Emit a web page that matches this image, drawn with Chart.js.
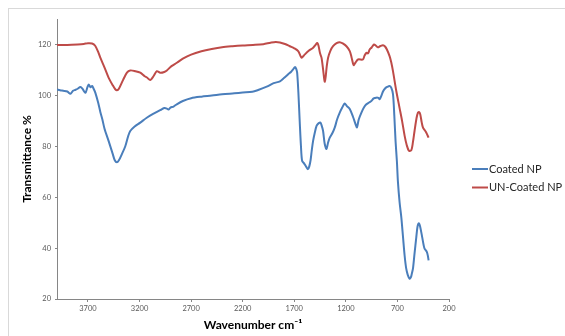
<!DOCTYPE html>
<html>
<head>
<meta charset="utf-8">
<script src="https://cdn.jsdelivr.net/npm/chart.js@4.4.1/dist/chart.umd.min.js"></script>
<style>
  html, body { margin: 0; padding: 0; background: #fff; overflow: hidden; }
  #wrap { position: relative; width: 565px; height: 336px; }
  #frame { position: absolute; left: 8px; top: 8px; width: 620px; height: 400px; border: 1px solid #d9d9d9; }
  #chart { position: absolute; left: 0; top: 0; }
</style>
</head>
<body>
<div id="wrap">
  <div id="frame"></div>
  <canvas id="chart" width="565" height="336"></canvas>
</div>
<script>
// 시리즈 이름
const seriesNames = ['Coated NP', 'UN-Coated NP'];
const seriesColors = ['#4a7ebb', '#be4b48'];

// 눈금 값
const xTickValues = [3700, 3200, 2700, 2200, 1700, 1200, 700, 200];
const yTickValues = [20, 40, 60, 80, 100, 120];

// Coated NP (파수, 투과율)
const coatedWn = [4000, 3970, 3940, 3900, 3870, 3845, 3820, 3800, 3773, 3750, 3725, 3705, 3693, 3675, 3660, 3645, 3628, 3600, 3580, 3560, 3540, 3500, 3460, 3440, 3420, 3400, 3370, 3338, 3310, 3290, 3250, 3193, 3130, 3064, 3000, 2960, 2935, 2920, 2900, 2870, 2839, 2780, 2700, 2600, 2500, 2400, 2281, 2200, 2107, 2050, 1967, 1900, 1839, 1800, 1759, 1730, 1711, 1694, 1682, 1672, 1660, 1646, 1635, 1624, 1605, 1585, 1567, 1555, 1542, 1530, 1517, 1500, 1484, 1465, 1446, 1435, 1421, 1405, 1388, 1372, 1356, 1330, 1307, 1285, 1259, 1235, 1211, 1190, 1162, 1130, 1100, 1092, 1075, 1049, 1025, 1001, 975, 953, 930, 904, 885, 872, 856, 840, 820, 800, 776, 760, 743, 730, 718, 705, 695, 679, 662, 645, 630, 615, 600, 582, 570, 560, 549, 535, 517, 505, 492, 480, 460, 445, 437, 415, 405, 398];
const coatedT = [102.3, 102.0, 101.8, 101.5, 100.6, 101.8, 102.2, 102.6, 103.3, 102.4, 101.0, 103.2, 104.3, 103.2, 103.7, 102.6, 101, 97, 93.5, 90.5, 87, 82.1, 77, 74.5, 73.7, 74.5, 77, 80, 84, 86, 87.7, 89.3, 91.2, 92.8, 94.2, 95.0, 94.8, 94.4, 95.2, 95.6, 96.5, 97.8, 98.9, 99.5, 99.9, 100.4, 100.8, 101.1, 101.4, 102.1, 103.4, 104.8, 105.5, 106.8, 108.3, 109.3, 110.2, 111.1, 110.5, 108.9, 101, 88.7, 80, 74.3, 73.3, 72, 71.0, 72, 74.5, 78.5, 82.2, 85.5, 88, 89, 89.3, 88.2, 86.1, 81, 78.9, 81.5, 83.4, 85.2, 87.4, 90.5, 93.2, 95.2, 96.8, 95.8, 94.6, 91.5, 88, 87.4, 90.5, 93.2, 95.2, 96.5, 97.2, 97.8, 98.8, 99.1, 99.0, 98.5, 99.8, 101.5, 102.7, 103.3, 103.7, 103, 100.5, 92, 82, 74, 66, 58, 52, 44, 37, 32, 29.5, 28, 28.5, 30, 32, 37.5, 44.3, 48.5, 49.8, 48.5, 44.3, 41, 39.8, 38.5, 37, 35.2];

// UN-Coated NP (파수, 투과율)
const uncoatedWn = [4000, 3900, 3800, 3740, 3700, 3660, 3630, 3600, 3580, 3540, 3500, 3460, 3435, 3419, 3400, 3360, 3322, 3290, 3240, 3193, 3150, 3128, 3096, 3065, 3032, 2999, 2960, 2935, 2890, 2838, 2780, 2700, 2600, 2500, 2400, 2300, 2200, 2100, 2000, 1930, 1880, 1839, 1790, 1743, 1700, 1662, 1640, 1630, 1615, 1597, 1560, 1517, 1490, 1478, 1465, 1450, 1436, 1420, 1410, 1404, 1395, 1385, 1372, 1350, 1324, 1290, 1259, 1230, 1194, 1162, 1145, 1124, 1105, 1082, 1034, 1020, 1001, 985, 969, 950, 927, 908, 889, 865, 840, 820, 802, 776, 760, 743, 711, 679, 655, 630, 610, 588, 565, 550, 534, 515, 501, 490, 479, 465, 453, 435, 421, 398];
const uncoatedT = [119.8, 119.8, 120.0, 120.2, 120.5, 120.4, 119.5, 117, 114.8, 111, 107, 104, 102.4, 102, 102.6, 106, 108.9, 109.8, 109.5, 108.9, 107.5, 107, 106, 107.5, 109.5, 108.9, 109.2, 109.8, 111.5, 112.8, 114.4, 116, 117.3, 118.2, 118.9, 119.3, 119.6, 119.8, 120.1, 120.7, 121.0, 120.8, 120.2, 119.3, 118.5, 117.4, 115.5, 114.8, 115.3, 116.1, 117.5, 118.7, 120.0, 120.6, 119.5, 116.5, 114.8, 110, 106.5, 105.4, 107.5, 111.5, 114.8, 117.5, 119.3, 120.5, 120.9, 120.4, 119.3, 117.4, 115, 111.9, 113, 114.1, 114.1, 115.5, 116.7, 116.5, 118, 118.8, 120, 119.5, 118.9, 119.4, 119.7, 119.2, 118, 115.4, 113, 109.5, 101.7, 95, 90, 84.1, 80.5, 78.2, 78.5, 81.5, 86, 91, 93.2, 93.4, 92.6, 89.5, 87.4, 86.3, 85.4, 83.4];

// 축 범위
const xMin = 200, xMax = 4000;
const yMin = 20, yMax = 130;

function toPoints(xs, ys) {
    return xs.map((x, i) => ({ x: x, y: ys[i] }));
}

// 오른쪽 범례 (엑셀 스타일)
const sideLegend = {
    id: 'sideLegend',
    afterDraw(chart) {
        const ctx = chart.ctx;
        const x0 = chart.chartArea.right + 23;
        ctx.save();
        ctx.font = '11px Lato, "Open Sans", sans-serif';
        ctx.textBaseline = 'middle';
        chart.data.datasets.forEach((ds, i) => {
            const y = 169 + i * 18.5;
            ctx.strokeStyle = ds.borderColor;
            ctx.lineWidth = 2;
            ctx.beginPath();
            ctx.moveTo(x0, y);
            ctx.lineTo(x0 + 16, y);
            ctx.stroke();
            ctx.fillStyle = '#262626';
            ctx.fillText(ds.label, x0 + 17, y);
        });
        ctx.restore();
    }
};

const tickFont = { family: 'Lato, "Open Sans", sans-serif', size: 7.5 };
const titleFont = { family: 'Lato, "Open Sans", sans-serif', size: 12, weight: 'bold' };

new Chart(document.getElementById('chart').getContext('2d'), {
    type: 'line',
    data: {
        datasets: [
            {
                label: seriesNames[0],
                data: toPoints(coatedWn, coatedT),
                borderColor: seriesColors[0],
                backgroundColor: seriesColors[0],
                borderWidth: 2,
                pointRadius: 0,
                tension: 0.3,
                fill: false
            },
            {
                label: seriesNames[1],
                data: toPoints(uncoatedWn, uncoatedT),
                borderColor: seriesColors[1],
                backgroundColor: seriesColors[1],
                borderWidth: 2,
                pointRadius: 0,
                tension: 0.3,
                fill: false
            }
        ]
    },
    options: {
        responsive: false,
        animation: false,
        layout: { padding: { left: 16, top: 19, right: 116, bottom: 0 } },
        plugins: {
            legend: { display: false },
            tooltip: { enabled: false }
        },
        scales: {
            x: {
                type: 'linear',
                reverse: true,
                min: xMin,
                max: xMax,
                afterBuildTicks: axis => { axis.ticks = xTickValues.map(v => ({ value: v })); },
                afterFit: axis => { axis.height = 37; },
                ticks: { autoSkip: false, maxRotation: 0, padding: 2, color: '#595959', font: tickFont, callback: v => String(v) },
                grid: { display: true, drawOnChartArea: false, drawTicks: true, tickLength: 3, color: '#868686' },
                border: { color: '#868686' },
                title: { display: true, text: 'Wavenumber cm\u207B\u00B9', color: '#000', font: titleFont, padding: { top: 2, bottom: 4 } }
            },
            y: {
                min: yMin,
                max: yMax,
                afterBuildTicks: axis => { axis.ticks = yTickValues.map(v => ({ value: v })); },
                afterFit: axis => { axis.width = 41; },
                ticks: { padding: 4, color: '#595959', font: tickFont, callback: v => String(v) },
                grid: { display: true, drawOnChartArea: false, drawTicks: true, tickLength: 2, color: '#868686' },
                border: { color: '#868686' },
                title: { display: true, text: 'Transmittance %', color: '#000', font: titleFont, padding: { top: 4, bottom: 4 } }
            }
        }
    },
    plugins: [sideLegend]
});
</script>
</body>
</html>
